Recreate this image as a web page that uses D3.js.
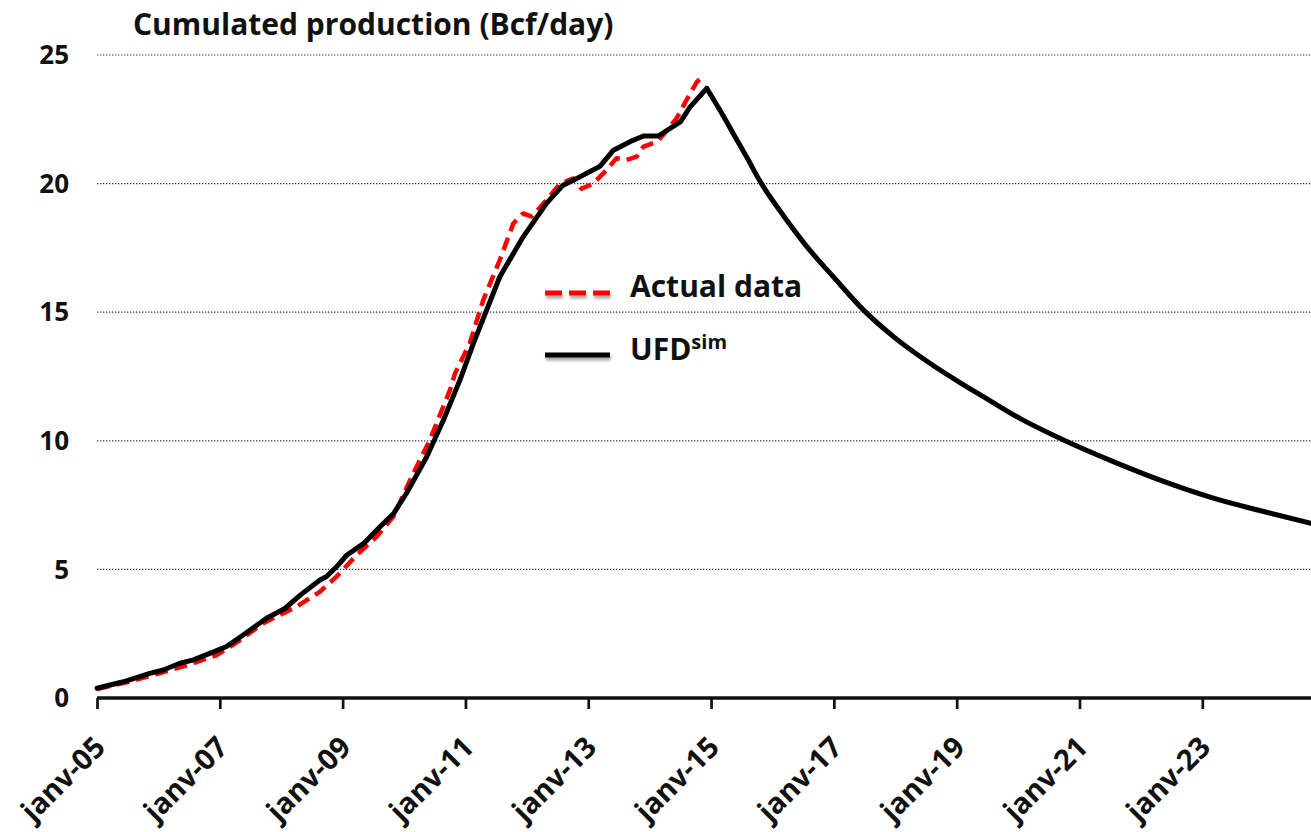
<!DOCTYPE html>
<html>
<head>
<meta charset="utf-8">
<script src="https://cdn.jsdelivr.net/npm/d3@7"></script>
<style>
  body { margin: 0; background: #fff; }
  svg { display: block; font-family: "Open Sans", sans-serif; font-weight: bold; }
</style>
</head>
<body>
<div id="chart"></div>
<script>
// UFD simulation, rising part (decimal years / Bcf per day)
const simYears = [2005.0, 2005.43, 2005.86, 2006.08, 2006.35, 2006.57, 2006.98, 2007.11, 2007.38, 2007.76,
  2008.06, 2008.31, 2008.63, 2008.74, 2008.9, 2009.07, 2009.34, 2009.61, 2009.83, 2010.04,
  2010.37, 2010.64, 2010.91, 2011.13, 2011.56, 2011.94, 2012.32, 2012.59, 2012.87, 2013.03,
  2013.19, 2013.41, 2013.68, 2013.9, 2014.14, 2014.5, 2014.66, 2014.93]
const simValues = [0.38, 0.63, 0.96, 1.09, 1.35, 1.48, 1.87, 2.0, 2.45, 3.1,
  3.48, 4.0, 4.59, 4.72, 5.1, 5.56, 6.0, 6.66, 7.17, 7.96,
  9.38, 10.8, 12.36, 13.79, 16.38, 17.93, 19.23, 19.94, 20.27, 20.47,
  20.67, 21.3, 21.63, 21.85, 21.85, 22.4, 22.98, 23.7]

// UFD simulation, decline after the peak
const declineYears = [2014.93, 2015.15, 2015.36, 2015.58, 2015.8, 2016.18, 2016.56, 2016.99, 2017.48, 2017.97,
  2018.51, 2019.06, 2019.5, 2020.03, 2020.74, 2021.55, 2022.37, 2023.18, 2024.0, 2024.77]
const declineValues = [23.7, 22.83, 21.95, 21.03, 20.08, 18.75, 17.55, 16.38, 15.09, 14.05,
  13.1, 12.25, 11.62, 10.87, 10.03, 9.19, 8.42, 7.77, 7.25, 6.79]

// Actual data
const actualYears = [2005.0, 2005.5, 2006.0, 2006.5, 2006.95, 2007.3, 2007.7, 2008.25, 2008.63, 2008.9,
  2009.23, 2009.55, 2009.83, 2010.1, 2010.42, 2010.75, 2010.83, 2011.07, 2011.29, 2011.56,
  2011.78, 2011.94, 2012.08, 2012.32, 2012.54, 2012.76, 2012.89, 2013.08, 2013.3, 2013.46,
  2013.62, 2013.79, 2013.9, 2014.12, 2014.22, 2014.44, 2014.6, 2014.77, 2014.9]
const actualValues = [0.35, 0.62, 0.95, 1.3, 1.67, 2.2, 2.9, 3.55, 4.13, 4.72,
  5.56, 6.27, 7.06, 8.48, 10.03, 11.98, 12.62, 13.79, 15.47, 17.03,
  18.45, 18.84, 18.72, 19.36, 20.0, 20.2, 19.8, 20.0, 20.53, 20.99,
  20.92, 21.05, 21.44, 21.63, 21.89, 22.54, 23.25, 23.96, 24.22]

const xTickYears = [2005, 2007, 2009, 2011, 2013, 2015, 2017, 2019, 2021, 2023]
const xTickLabels = ["janv-05", "janv-07", "janv-09", "janv-11", "janv-13", "janv-15", "janv-17", "janv-19", "janv-21", "janv-23"]
const yTicks = [0, 5, 10, 15, 20, 25]

const width = 1311, height = 832
const margin = {top: 55, right: 0, bottom: 134, left: 97}

const svg = d3.select("#chart").append("svg")
  .attr("width", width)
  .attr("height", height)

// soft shadow under the legend keys
const defs = svg.append("defs")
defs.append("filter").attr("id", "shadow")
  .attr("filterUnits", "userSpaceOnUse")
  .attr("x", 500).attr("y", 250).attr("width", 160).attr("height", 150)
  .append("feDropShadow")
  .attr("dx", 1).attr("dy", 3).attr("stdDeviation", 1.5)
  .attr("flood-color", "#000").attr("flood-opacity", 0.35)

const x = d3.scaleLinear()
  .domain([2005, 2024.77])
  .range([margin.left, width - margin.right])

const y = d3.scaleLinear()
  .domain([0, 25])
  .range([height - margin.bottom, margin.top])

// gridlines
svg.append("g")
  .selectAll("line")
  .data(yTicks.filter(d => d > 0))
  .join("line")
  .attr("x1", x(2005))
  .attr("x2", width)
  .attr("y1", d => y(d))
  .attr("y2", d => y(d))
  .style("stroke", "#333")
  .style("stroke-width", 1.2)
  .style("stroke-dasharray", "1.3,1.7")

// y labels
svg.append("g")
  .selectAll("text")
  .data(yTicks)
  .join("text")
  .attr("x", 69)
  .attr("y", d => y(d))
  .attr("dy", "0.35em")
  .attr("text-anchor", "end")
  .style("font-size", "26px")
  .style("fill", "#111")
  .text(d => d)

// x axis
const xAxis = d3.axisBottom(x)
  .tickValues(xTickYears)
  .tickSize(11)
  .tickFormat("")
const axisG = svg.append("g")
  .attr("transform", `translate(0,${y(0)})`)
  .call(xAxis)
axisG.select(".domain").attr("d", `M${x(2005)},0H${width}`).style("stroke", "#111").style("stroke-width", 3.5)
axisG.selectAll(".tick line").style("stroke", "#111").style("stroke-width", 2.7)

svg.append("g")
  .selectAll("text")
  .data(xTickYears)
  .join("text")
  .attr("transform", d => `translate(${x(d) + 10},${y(0) + 51}) rotate(-45)`)
  .attr("text-anchor", "end")
  .style("font-size", "29px")
  .style("fill", "#111")
  .text((d, i) => xTickLabels[i])

// title
svg.append("text")
  .attr("x", 133)
  .attr("y", 35)
  .style("font-size", "30px")
  .style("fill", "#111")
  .text("Cumulated production (Bcf/day)")

// lines
const actualLine = d3.line()
  .x((d, i) => x(actualYears[i]))
  .y(d => y(d))
const simLine = d3.line()
  .x((d, i) => x(simYears[i]))
  .y(d => y(d))
const declineLine = d3.line()
  .x((d, i) => x(declineYears[i]))
  .y(d => y(d))
  .curve(d3.curveMonotoneX)

svg.append("path")
  .datum(actualValues)
  .attr("d", actualLine)
  .style("fill", "none")
  .style("stroke", "#ff0000")
  .style("stroke-width", 4.5)
  .style("stroke-dasharray", "13,7")
  .style("stroke-linejoin", "round")

svg.append("path")
  .datum(simValues)
  .attr("d", simLine)
  .style("fill", "none")
  .style("stroke", "#000")
  .style("stroke-width", 5)
  .style("stroke-linejoin", "round")
  .style("stroke-linecap", "round")

svg.append("path")
  .datum(declineValues)
  .attr("d", declineLine)
  .style("fill", "none")
  .style("stroke", "#000")
  .style("stroke-width", 5)
  .style("stroke-linecap", "round")

// legend
const legend = svg.append("g")
legend.append("line")
  .attr("x1", 545).attr("x2", 610).attr("y1", 293).attr("y2", 293)
  .style("stroke", "#ff0000").style("stroke-width", 5)
  .style("stroke-dasharray", "17,7")
  .attr("filter", "url(#shadow)")
legend.append("text")
  .attr("x", 630).attr("y", 297)
  .style("font-size", "30px")
  .style("fill", "#111")
  .text("Actual data")

legend.append("line")
  .attr("x1", 545).attr("x2", 610).attr("y1", 355).attr("y2", 355)
  .style("stroke", "#000").style("stroke-width", 5)
  .attr("filter", "url(#shadow)")
const ufd = legend.append("text")
  .attr("x", 630).attr("y", 360)
  .style("font-size", "30px")
  .style("fill", "#111")
ufd.append("tspan").text("UFD")
ufd.append("tspan")
  .attr("dy", -11)
  .style("font-size", "20px")
  .text("sim")
</script>
</body>
</html>
